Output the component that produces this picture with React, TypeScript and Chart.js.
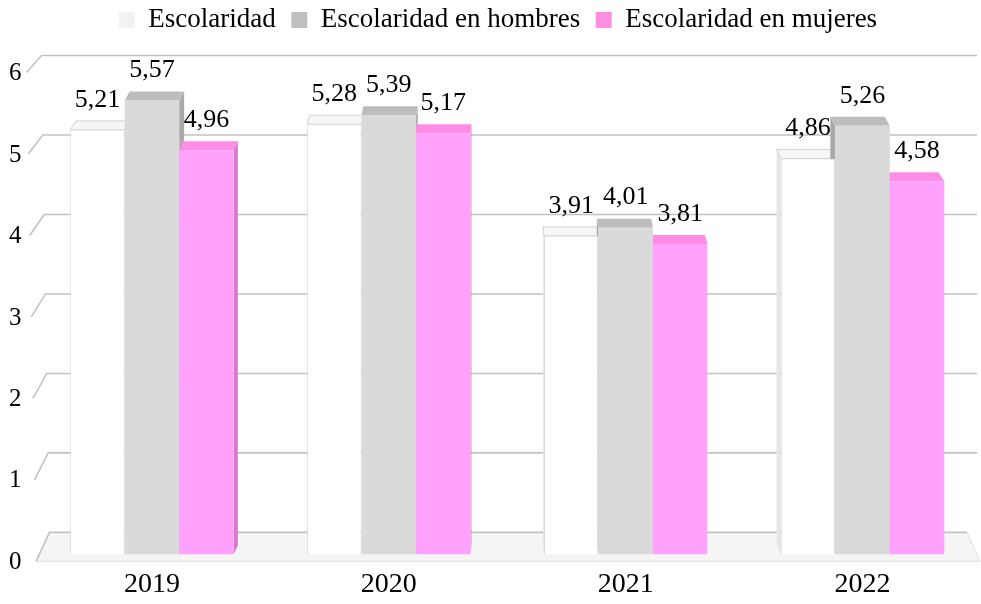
import React, { useEffect, useRef } from 'react';
import { Chart, registerables } from 'chart.js';

Chart.register(...registerables);

const categories = ['2019', '2020', '2021', '2022'];
const seriesNames = ['Escolaridad', 'Escolaridad en hombres', 'Escolaridad en mujeres'];
const escolaridad = [5.21, 5.28, 3.91, 4.86];
const hombres = [5.57, 5.39, 4.01, 5.26];
const mujeres = [4.96, 5.17, 3.81, 4.58];
const yTicks = [0, 1, 2, 3, 4, 5, 6];
const Y_MAX = 6.27;

const FRONT = ['#ffffff', '#dadada', '#ffa1fd'];
const TOP = ['#f6f6f6', '#bdbdbd', '#ff8ce6'];
const SIDE = ['#e6e6e6', '#a9a9a9', '#dd78cf'];
const LEGEND = ['#f2f2f2', '#bfbfbf', '#ff8ee0'];
const FONT = "'Liberation Serif', 'Times New Roman', serif";

const fmt = (v: number) => v.toFixed(2).replace('.', ',');

const threeD = {
  id: 'threeD',
  afterLayout(chart: any) {
    const lg = chart.legend;
    if (lg) {
      lg.left += 9;
      lg.right += 9;
    }
  },
  beforeDatasetsDraw(chart: any) {
    const { ctx, chartArea } = chart;
    const ys = chart.scales.y;
    const topV = yTicks[yTicks.length - 1];
    const fx = (v: number) => chartArea.left - 7 + (topV - v) * 1.6;
    const bx = (v: number) => chartArea.left + 8 + (topV - v) * 1.33;
    const fy = (v: number) => ys.getPixelForValue(v) + 7;
    const by = (v: number) => ys.getPixelForValue(v) - 22 + 2 * v;
    const rightX = chartArea.right - 4;
    ctx.save();
    // floor
    ctx.beginPath();
    ctx.moveTo(fx(0), fy(0));
    ctx.lineTo(bx(0), by(0));
    ctx.lineTo(rightX - 10, by(0));
    ctx.lineTo(chartArea.right - 1, fy(0));
    ctx.closePath();
    ctx.fillStyle = '#f5f5f5';
    ctx.fill();
    ctx.strokeStyle = '#e4e4e4';
    ctx.lineWidth = 1.2;
    ctx.beginPath();
    ctx.moveTo(fx(0), fy(0));
    ctx.lineTo(chartArea.right - 1, fy(0));
    ctx.lineTo(rightX - 10, by(0));
    ctx.stroke();
    // gridlines
    ctx.strokeStyle = '#c2c2c2';
    ctx.lineWidth = 1.6;
    yTicks.forEach((v) => {
      ctx.beginPath();
      ctx.moveTo(fx(v), fy(v));
      ctx.lineTo(bx(v), by(v));
      ctx.lineTo(v === 0 ? rightX - 10 : rightX, by(v));
      ctx.stroke();
    });
    // bar tops and sides
    const vp = (chartArea.left + chartArea.right) / 2;
    const depth = 9;
    chart.data.datasets.forEach((ds: any, i: number) => {
      const meta = chart.getDatasetMeta(i);
      meta.data.forEach((el: any) => {
        const { x, y, base, width } = el.getProps(['x', 'y', 'base', 'width'], true);
        const l = x - width / 2;
        const r = x + width / 2;
        const dx = 0.014 * (vp - x);
        const sx = dx > 0 ? r : l;
        ctx.beginPath();
        ctx.moveTo(sx, y);
        ctx.lineTo(sx + dx, y - depth);
        ctx.lineTo(sx + dx, base - depth);
        ctx.lineTo(sx, base);
        ctx.closePath();
        ctx.fillStyle = SIDE[i];
        ctx.fill();
        ctx.beginPath();
        ctx.moveTo(l, y);
        ctx.lineTo(l + dx, y - depth);
        ctx.lineTo(r + dx, y - depth);
        ctx.lineTo(r, y);
        ctx.closePath();
        ctx.fillStyle = TOP[i];
        ctx.fill();
        if (i === 0) {
          ctx.strokeStyle = '#d4d4d4';
          ctx.lineWidth = 1;
          ctx.stroke();
        }
      });
    });
    ctx.restore();
  },
  afterDatasetsDraw(chart: any) {
    const { ctx } = chart;
    ctx.save();
    ctx.font = `26px ${FONT}`;
    ctx.fillStyle = '#000';
    ctx.textAlign = 'center';
    ctx.textBaseline = 'middle';
    chart.data.datasets.forEach((ds: any, i: number) => {
      const meta = chart.getDatasetMeta(i);
      meta.data.forEach((el: any, j: number) => {
        const { x, y } = el.getProps(['x', 'y'], true);
        ctx.fillText(fmt(ds.data[j]), x, y - 30);
      });
    });
    ctx.restore();
  },
};

export default function App() {
  const ref = useRef<HTMLCanvasElement | null>(null);
  useEffect(() => {
    if (!ref.current) return;
    const series = [escolaridad, hombres, mujeres];
    const chart = new Chart(ref.current, {
      type: 'bar',
      data: {
        labels: categories,
        datasets: series.map((d, i) => ({
          label: seriesNames[i],
          data: d,
          backgroundColor: FRONT[i],
          borderColor: i === 0 ? '#dcdcdc' : FRONT[i],
          borderWidth: i === 0 ? 1 : 0,
          categoryPercentage: 0.69,
          barPercentage: 1,
        })),
      },
      options: {
        animation: false,
        responsive: true,
        maintainAspectRatio: false,
        layout: { padding: { left: -3, right: 0, top: -9, bottom: -10 } },
        plugins: {
          legend: {
            position: 'top',
            labels: {
              font: { family: FONT, size: 27 },
              color: '#000',
              boxWidth: 16,
              boxHeight: 16,
              padding: 15.5,
              generateLabels: (c: any) =>
                c.data.datasets.map((ds: any, i: number) => ({
                  text: ds.label,
                  fillStyle: LEGEND[i],
                  strokeStyle: LEGEND[i],
                  lineWidth: 0,
                  hidden: false,
                  datasetIndex: i,
                })),
            },
          },
          tooltip: { enabled: false },
        },
        scales: {
          x: {
            grid: { display: false, drawTicks: false },
            border: { display: false },
            ticks: { font: { family: FONT, size: 28 }, color: '#000', padding: 13 },
          },
          y: {
            min: 0,
            max: Y_MAX,
            grid: { display: false, drawTicks: false },
            border: { display: false },
            afterBuildTicks: (s: any) => {
              s.ticks = yTicks.map((v) => ({ value: v }));
            },
            ticks: { font: { family: FONT, size: 25 }, color: '#000', padding: 12, labelOffset: 8 },
          },
        },
      },
      plugins: [threeD],
    } as any);
    return () => chart.destroy();
  }, []);
  return (
    <div style={{ position: 'fixed', left: 0, top: 0, width: 981, height: 604, background: '#fff' }}>
      <canvas ref={ref} />
    </div>
  );
}
